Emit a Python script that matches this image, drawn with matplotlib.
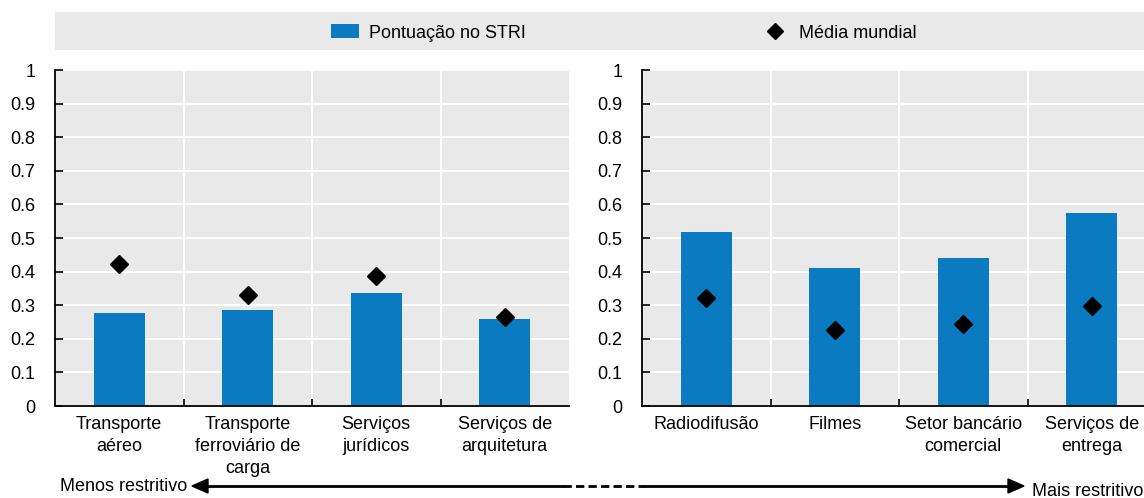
import matplotlib.pyplot as plt
from matplotlib.patches import Rectangle, Patch
from matplotlib.lines import Line2D
import numpy as np

plt.rcParams['font.family'] = ['Liberation Sans', 'DejaVu Sans']

left_cats = ['Transporte\naéreo', 'Transporte\nferroviário de\ncarga',
             'Serviços\njurídicos', 'Serviços de\narquitetura']
left_stri = [0.277, 0.286, 0.337, 0.260]
left_world = [0.423, 0.331, 0.387, 0.265]

right_cats = ['Radiodifusão', 'Filmes', 'Setor bancário\ncomercial', 'Serviços de\nentrega']
right_stri = [0.517, 0.410, 0.441, 0.573]
right_world = [0.321, 0.225, 0.243, 0.299]

yticks = [0, 0.1, 0.2, 0.3, 0.4, 0.5, 0.6, 0.7, 0.8, 0.9, 1]

blue = '#0A7BC1'
grey = '#E9E9E9'
fs = 13

W, H = 1144, 498
fig = plt.figure(figsize=(W / 100, H / 100), dpi=100)


def panel(x0px, cats, stri, world):
    ax = fig.add_axes([x0px / W, 1 - 406 / H, 514 / W, 336 / H])
    ax.set_facecolor(grey)
    x = np.arange(len(cats))
    ax.bar(x, stri, width=0.4, color=blue, zorder=3)
    ax.plot(x, world, 'D', color='black', ms=9, zorder=4)
    ax.set_xlim(-0.5, len(cats) - 0.5)
    ax.set_ylim(0, 1)
    ax.set_yticks(yticks)
    ax.set_yticklabels([f'{v:g}' for v in yticks], fontsize=fs)
    ax.set_xticks(x)
    ax.set_xticklabels(cats, fontsize=fs, linespacing=1.4)
    ax.set_xticks(np.arange(len(cats) + 1)[1:-1] - 0.5, minor=True)
    ax.tick_params(axis='x', which='major', length=0, pad=7)
    ax.tick_params(axis='x', which='minor', direction='in', length=5, width=1.2)
    ax.tick_params(axis='y', direction='in', length=6, width=1.2, pad=14)
    ax.grid(axis='y', color='white', lw=1.5, zorder=1)
    ax.grid(axis='x', which='minor', color='white', lw=1.5, zorder=1)
    for s in ['top', 'right']:
        ax.spines[s].set_visible(False)
    for s in ['left', 'bottom']:
        ax.spines[s].set_linewidth(1.3)
        ax.spines[s].set_zorder(5)
    return ax


panel(55, left_cats, left_stri, left_world)
panel(642, right_cats, right_stri, right_world)

# legend band
fig.patches.append(Rectangle((55 / W, 1 - 50 / H), 1 - 55 / W, 38 / H,
                             transform=fig.transFigure, facecolor=grey,
                             edgecolor='none', zorder=0))
handles = [Patch(facecolor=blue, edgecolor='none'),
           Line2D([], [], marker='D', color='black', ls='none', ms=8)]
fig.legend(handles, ['Pontuação no STRI', 'Média mundial'], ncol=2,
           loc='center', bbox_to_anchor=(624 / W, 1 - 33 / H), frameon=False,
           fontsize=fs, handlelength=1.5, handleheight=0.8,
           columnspacing=13.0, handletextpad=0.6)

# restrictiveness arrow
ya = 1 - 486 / H
fig.text(60 / W, ya, 'Menos restritivo', fontsize=fs, va='center', ha='left')
fig.text(1143 / W, 1 - 491 / H, 'Mais restritivo', fontsize=fs, va='center', ha='right')
fig.add_artist(Line2D([200 / W, 563 / W], [ya, ya], lw=2, color='black'))
fig.add_artist(Line2D([563 / W, 645 / W], [ya, ya], lw=2, color='black', ls=(0, (3, 1.5))))
fig.add_artist(Line2D([645 / W, 1015 / W], [ya, ya], lw=2, color='black'))
fig.patches.append(plt.Polygon([[192 / W, ya], [208 / W, ya + 7 / H], [208 / W, ya - 7 / H]],
                               closed=True, transform=fig.transFigure, color='black'))
fig.patches.append(plt.Polygon([[1024 / W, ya], [1008 / W, ya + 7 / H], [1008 / W, ya - 7 / H]],
                               closed=True, transform=fig.transFigure, color='black'))

fig.savefig('out.png', dpi=100)
